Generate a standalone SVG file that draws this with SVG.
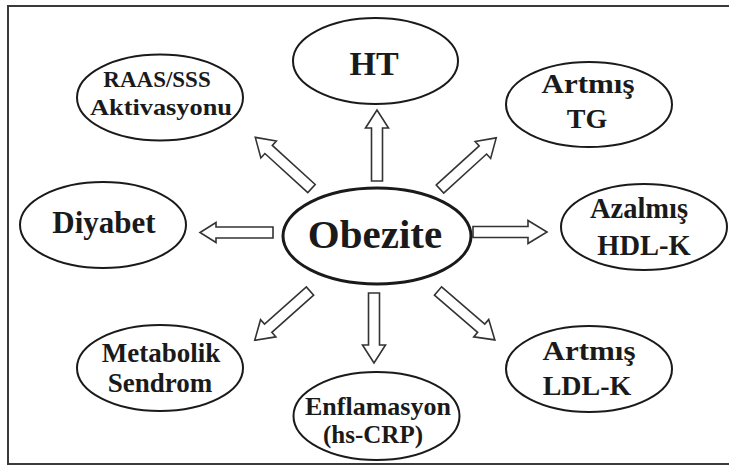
<svg xmlns="http://www.w3.org/2000/svg" width="729" height="466" viewBox="0 0 729 466">
<style>
.bg{fill:#ffffff}
.frame{fill:none;stroke:#3a3a3a;stroke-width:2}
.node ellipse{fill:#ffffff;stroke:#1a1a1a;stroke-width:2}
#obezite ellipse{stroke-width:3}
text{font-family:"Liberation Serif","Times New Roman",serif;font-weight:bold;fill:#1a1a1a;text-anchor:middle}
.arrow{fill:#ffffff;stroke:#333333;stroke-width:1.6;stroke-linejoin:miter}
</style>
<rect class="bg" x="0" y="0" width="729" height="466"/>
<rect class="frame" x="8" y="6" width="730" height="458"/>
<g id="connectors">
<path class="arrow" transform="translate(377,181) rotate(-90)" d="M0,-5.5 H53 V-11.5 L71,0 L53,11.5 V5.5 H0 Z"/>
<path class="arrow" transform="translate(374,293) rotate(90)" d="M0,-5.5 H52 V-11.5 L70,0 L52,11.5 V5.5 H0 Z"/>
<path class="arrow" transform="translate(273,232.5) rotate(180)" d="M0,-5.5 H57 V-10 L73,0 L57,10 V5.5 H0 Z"/>
<path class="arrow" transform="translate(473,232)" d="M0,-5.5 H55 V-11.5 L74,0 L55,11.5 V5.5 H0 Z"/>
<path class="arrow" transform="translate(311.5,188.5) rotate(-137.7)" d="M0,-5.5 H58 V-11.5 L76,0 L58,11.5 V5.5 H0 Z"/>
<path class="arrow" transform="translate(440,189) rotate(-42.3)" d="M0,-5.5 H58 V-11.5 L76,0 L58,11.5 V5.5 H0 Z"/>
<path class="arrow" transform="translate(310,291) rotate(138.3)" d="M0,-5.5 H56 V-11.5 L74,0 L56,11.5 V5.5 H0 Z"/>
<path class="arrow" transform="translate(438,291) rotate(40.7)" d="M0,-5.5 H57 V-11.5 L75,0 L57,11.5 V5.5 H0 Z"/>
</g>
<g id="ht" class="node">
<ellipse cx="375.5" cy="61" rx="82.5" ry="43"/>
<text x="374" y="75" font-size="34">HT</text>
</g>
<g id="raas" class="node">
<ellipse cx="160" cy="97.5" rx="83" ry="43"/>
<text x="157" y="87" font-size="23">RAAS/SSS</text>
<text x="161" y="115" font-size="24" textLength="142" lengthAdjust="spacingAndGlyphs">Aktivasyonu</text>
</g>
<g id="tg" class="node">
<ellipse cx="589" cy="104.5" rx="83" ry="42.5"/>
<text x="588" y="93" font-size="28" textLength="93" lengthAdjust="spacingAndGlyphs">Artmış</text>
<text x="587" y="128" font-size="28">TG</text>
</g>
<g id="diyabet" class="node">
<ellipse cx="103" cy="225" rx="83" ry="43"/>
<text x="104" y="233" font-size="31">Diyabet</text>
</g>
<g id="obezite" class="node">
<ellipse cx="377" cy="236" rx="94" ry="48"/>
<text x="375" y="248" font-size="41">Obezite</text>
</g>
<g id="hdl" class="node">
<ellipse cx="644" cy="227" rx="83" ry="43"/>
<text x="639" y="218" font-size="28.5">Azalmış</text>
<text x="644" y="255" font-size="28.5">HDL-K</text>
</g>
<g id="metabolik" class="node">
<ellipse cx="160" cy="368" rx="83" ry="43"/>
<text x="161" y="362" font-size="27">Metabolik</text>
<text x="160" y="392" font-size="27">Sendrom</text>
</g>
<g id="enflamasyon" class="node">
<ellipse cx="376.5" cy="416" rx="83" ry="44"/>
<text x="378" y="415" font-size="26">Enflamasyon</text>
<text x="373" y="443" font-size="25">(hs-CRP)</text>
</g>
<g id="ldl" class="node">
<ellipse cx="589" cy="369" rx="83" ry="43"/>
<text x="589" y="360" font-size="28" textLength="93" lengthAdjust="spacingAndGlyphs">Artmış</text>
<text x="587" y="395" font-size="28">LDL-K</text>
</g>
</svg>
